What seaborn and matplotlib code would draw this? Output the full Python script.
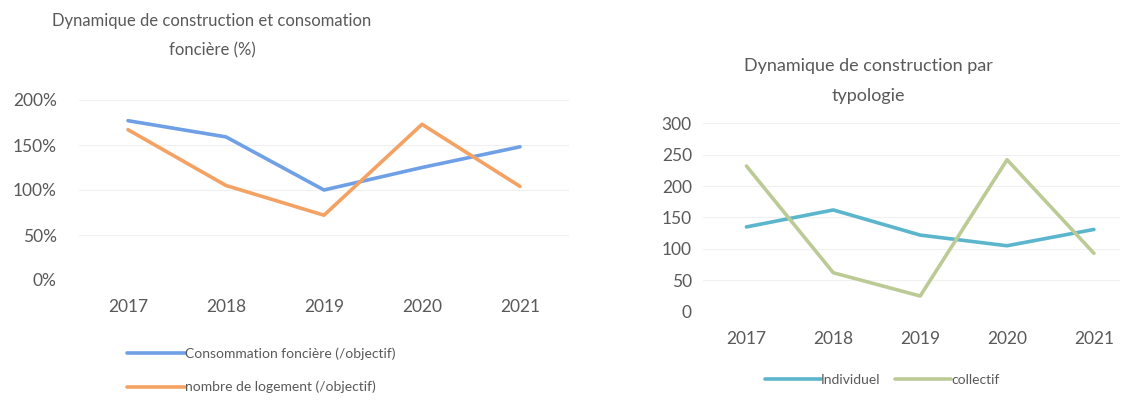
import pandas as pd
import matplotlib.pyplot as plt
import seaborn as sns

# values
years = ['2017', '2018', '2019', '2020', '2021']
conso_fonciere = [177, 159, 100, 125, 148]
nb_logement = [167, 105, 72, 173, 104]
individuel = [135, 162, 122, 105, 131]
collectif = [232, 62, 25, 242, 93]

left_labels = ['Consommation foncière (/objectif)', 'nombre de logement (/objectif)']
right_labels = ['Individuel', 'collectif']

sns.set_theme(style='white')
plt.rcParams['font.family'] = ['Lato', 'DejaVu Sans']
text_col = '#595959'

df_left = pd.DataFrame({
    'annee': years * 2,
    'valeur': conso_fonciere + nb_logement,
    'serie': [left_labels[0]] * 5 + [left_labels[1]] * 5,
})
df_right = pd.DataFrame({
    'annee': years * 2,
    'valeur': individuel + collectif,
    'serie': [right_labels[0]] * 5 + [right_labels[1]] * 5,
})

fig = plt.figure(figsize=(11.3, 4.05), dpi=100)

# left chart
ax1 = fig.add_axes([79 / 1130, 1 - 280 / 405, 490 / 1130, 180 / 405])
sns.lineplot(data=df_left, x='annee', y='valeur', hue='serie', sort=False,
             palette=['#6fa0e6', '#f4a263'], linewidth=2.6, ax=ax1)
ax1.set_xlim(-0.5, 4.5)
ax1.set_ylim(0, 200)
ax1.set_yticks([0, 50, 100, 150, 200])
ax1.set_yticklabels(['0%', '50%', '100%', '150%', '200%'])
ax1.set_xlabel('')
ax1.set_ylabel('')
ax1.legend(loc='center left', bbox_to_anchor=(127 / 1130, 1 - 370.5 / 405),
           bbox_transform=fig.transFigure, borderpad=0, borderaxespad=0,
           frameon=False, handlelength=4.2, handletextpad=0.0, labelspacing=1.5,
           fontsize=10, labelcolor=text_col)
fig.text(212 / 1130, 1 - 36 / 405,
         'Dynamique de construction et consomation\nfoncière (%)',
         ha='center', va='center', fontsize=12, color=text_col, linespacing=2.0)

# right chart
ax2 = fig.add_axes([703 / 1130, 1 - 311.7 / 405, 417 / 1130, 188.4 / 405])
sns.lineplot(data=df_right, x='annee', y='valeur', hue='serie', sort=False,
             palette=['#5bb5cc', '#bccb96'], linewidth=2.6, ax=ax2)
ax2.set_xlim(-0.5, 4.3)
ax2.set_ylim(0, 300)
ax2.set_yticks(range(0, 301, 50))
ax2.set_xlabel('')
ax2.set_ylabel('')
ax2.legend(loc='center left', bbox_to_anchor=(765 / 1130, 1 - 380 / 405),
           bbox_transform=fig.transFigure, borderpad=0, borderaxespad=0, ncol=2,
           frameon=False, handlelength=4.0, handletextpad=0.0, columnspacing=1.1,
           fontsize=10, labelcolor=text_col)
fig.text(868 / 1130, 1 - 81 / 405, 'Dynamique de construction par\ntypologie',
         ha='center', va='center', fontsize=13, color=text_col, linespacing=2.1)

for ax in (ax1, ax2):
    ax.grid(axis='y', color='#f0f0f0', linewidth=0.8)
    sns.despine(ax=ax, left=True, bottom=True)
    ax.tick_params(axis='both', length=0, labelsize=12.5, labelcolor=text_col)
ax1.tick_params(axis='x', pad=14)
ax1.tick_params(axis='y', pad=16)
ax2.tick_params(axis='x', pad=14)
ax2.tick_params(axis='y', pad=8)

fig.savefig('out.png', dpi=100)
